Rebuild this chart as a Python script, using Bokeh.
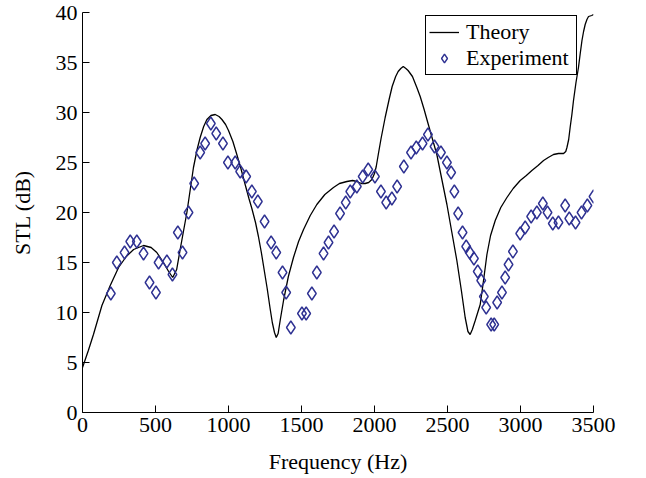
from bokeh.plotting import figure
from bokeh.models import Legend, LegendItem, Range1d, FixedTicker
from bokeh.embed import file_html
from bokeh.resources import INLINE

# Theory curve (Hz, dB)
theory_f = [0, 40, 75, 133, 190, 247, 300, 350, 418, 470, 509, 550, 590, 618, 645,
            669, 690, 715, 740, 760, 785, 806, 830, 852, 880, 909, 935, 955, 980, 1000,
            1030, 1057, 1085, 1114, 1140, 1160, 1185, 1205, 1225, 1245, 1265, 1285, 1300,
            1315, 1327, 1340, 1355, 1377, 1410, 1445, 1480, 1514, 1560, 1605, 1660, 1719,
            1760, 1811, 1850, 1879, 1910, 1936, 1960, 1982, 2000, 2012, 2027, 2045, 2073,
            2100, 2121, 2145, 2162, 2180, 2197, 2215, 2230, 2260, 2290, 2313, 2340, 2359,
            2390, 2427, 2460, 2496, 2530, 2564, 2595, 2621, 2640, 2655, 2670, 2690, 2724,
            2745, 2770, 2795, 2827, 2865, 2907, 2950, 2998, 3040, 3078, 3120, 3158, 3190,
            3226, 3260, 3295, 3310, 3318, 3330, 3340, 3352, 3363, 3380, 3397, 3410, 3421,
            3432, 3443, 3455, 3466, 3488, 3500]
theory_db = [4.5, 6.2, 7.8, 10.7, 12.7, 14.5, 15.6, 16.3, 16.7, 16.5, 16.0, 15.1, 14.1, 13.5, 14.3,
             16.3, 18.0, 20.0, 22.5, 24.5, 26.3, 27.5, 28.6, 29.3, 29.7, 29.8, 29.6, 29.3, 28.8, 28.2,
             27.1, 25.8, 24.4, 22.8, 21.4, 20.4, 19.0, 17.6, 16.0, 14.2, 12.4, 10.4, 9.0,
             8.0, 7.5, 7.9, 9.3, 11.2, 13.6, 15.5, 17.1, 18.3, 19.7, 20.8, 21.8, 22.5,
             22.9, 23.1, 23.2, 23.1, 22.9, 22.9, 23.0, 23.3, 23.9, 24.6, 25.9, 27.4, 29.5,
             31.3, 32.6, 33.6, 34.1, 34.4, 34.6, 34.4, 34.2, 33.6, 32.5, 31.6, 30.3, 29.3,
             27.7, 25.8, 23.4, 20.8, 18.0, 15.2, 12.2, 9.5, 8.1, 7.8, 8.3, 9.2, 10.8,
             13.0, 15.8, 17.7, 19.2, 20.5, 21.5, 22.4, 23.2, 23.7, 24.2, 24.7, 25.2, 25.5,
             25.8, 25.9, 25.9, 26.1, 26.5, 27.3, 28.5, 29.8, 31.2, 33.0, 34.5, 36.0, 37.2,
             38.1, 38.8, 39.3, 39.6, 39.7, 39.8]

# Experiment points (Hz, dB)
exp_f = [194, 235, 288, 327, 372, 418, 459, 503, 521, 578, 616, 653, 685, 726, 765,
         806, 840, 879, 916, 962, 996, 1046, 1080, 1121, 1160, 1201, 1247, 1292, 1327,
         1370, 1395, 1427, 1503, 1532, 1571, 1605, 1651, 1685, 1723, 1764, 1803, 1834,
         1879, 1919, 1957, 2003, 2044, 2080, 2119, 2155, 2201, 2250, 2286, 2329, 2366,
         2411, 2455, 2496, 2525, 2547, 2573, 2603, 2628, 2652, 2681, 2707, 2731, 2749,
         2765, 2799, 2820, 2840, 2873, 2895, 2918, 2948, 2998, 3032, 3073, 3112, 3153,
         3185, 3221, 3260, 3306, 3334, 3377, 3418, 3458, 3500]
exp_db = [11.9, 15.0, 16.0, 17.1, 17.1, 15.9, 13.0, 12.0, 15.0, 15.1, 13.8, 18.0, 16.0, 20.0, 22.9,
          26.0, 26.9, 28.9, 27.9, 26.9, 25.0, 25.0, 24.1, 23.6, 22.1, 21.1, 19.1, 17.0, 16.0,
          14.0, 12.0, 8.5, 9.9, 9.9, 11.9, 14.0, 15.9, 17.0, 18.1, 19.9, 21.0, 22.1,
          22.6, 23.6, 24.3, 23.6, 22.1, 21.0, 21.4, 22.6, 24.6, 26.0, 26.5, 26.9, 27.8,
          26.6, 26.0, 25.0, 24.0, 22.1, 19.9, 18.0, 16.6, 16.0, 15.4, 14.1, 13.2, 11.6,
          10.5, 8.8, 8.8, 11.0, 12.0, 13.5, 14.8, 16.1, 17.9, 18.5, 19.6, 20.0, 20.9,
          20.0, 18.9, 19.0, 20.7, 19.4, 19.0, 20.0, 20.7, 21.6]

x_ticks = [0, 500, 1000, 1500, 2000, 2500, 3000, 3500]
y_ticks = [0, 5, 10, 15, 20, 25, 30, 35, 40]

FONT = "Liberation Serif"

p = figure(width=646, height=478, output_backend="svg", toolbar_location=None,
           x_range=Range1d(0, 3500), y_range=Range1d(0, 40))
p.min_border_left = 82
p.min_border_right = 53
p.min_border_top = 12
p.min_border_bottom = 66
p.outline_line_color = None
p.xgrid.visible = False
p.ygrid.visible = False
p.background_fill_color = "white"
p.border_fill_color = "white"

line_r = p.line(theory_f, theory_db, line_color="black", line_width=1.3)
exp_r = p.scatter(exp_f, exp_db, marker="diamond", size=13, fill_color=None,
                  line_color="#2E3192", line_width=1.4)

for ax in (p.xaxis[0], p.yaxis[0]):
    ax.major_tick_in = 7
    ax.major_tick_out = 0
    ax.minor_tick_line_color = None
    ax.axis_line_color = "black"
    ax.major_tick_line_color = "black"
    ax.major_label_text_font = FONT
    ax.major_label_text_font_size = "22px"
    ax.major_label_text_color = "black"
    ax.axis_label_text_font = FONT
    ax.axis_label_text_font_size = "22px"
    ax.axis_label_text_font_style = "normal"
    ax.axis_label_text_color = "black"

p.xaxis[0].ticker = FixedTicker(ticks=x_ticks)
p.yaxis[0].ticker = FixedTicker(ticks=y_ticks)
p.xaxis[0].axis_label = "Frequency (Hz)"
p.yaxis[0].axis_label = "STL (dB)"
p.xaxis[0].major_label_standoff = 5
p.yaxis[0].major_label_standoff = 5
p.xaxis[0].axis_label_standoff = 14
p.yaxis[0].axis_label_standoff = 18

legend = Legend(items=[LegendItem(label="Theory", renderers=[line_r]),
                       LegendItem(label="Experiment", renderers=[exp_r])],
                location=(343, 337))
legend.label_text_font = FONT
legend.label_text_font_size = "22px"
legend.label_text_color = "black"
legend.border_line_color = "black"
legend.border_line_alpha = 1.0
legend.border_line_width = 1
legend.padding = 3
legend.spacing = 0
legend.margin = 0
legend.glyph_width = 30
legend.glyph_height = 22
legend.label_standoff = 7
legend.label_width = 107
legend.background_fill_color = "white"
legend.background_fill_alpha = 1.0
p.add_layout(legend, "center")

open("out.html", "w").write(file_html(p, INLINE))
